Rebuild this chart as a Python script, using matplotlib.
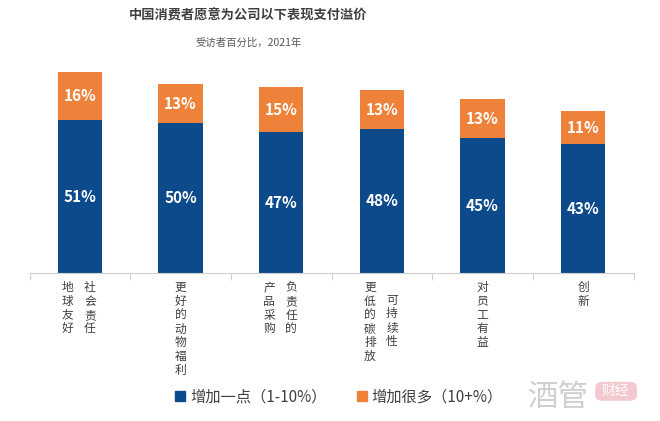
import matplotlib
matplotlib.use('Agg')
from matplotlib import pyplot as plt
from matplotlib.patches import Patch, FancyBboxPatch
import numpy as np

plt.rcParams['font.family'] = ['Noto Sans CJK SC', 'DejaVu Sans']

# Data
categories = [['地球友好', '社会责任'],
              ['更好的动物福利'],
              ['产品采购', '负责任的'],
              ['更低的碳排放', '可持续性'],
              ['对员工有益'],
              ['创新']]
little = [51, 50, 47, 48, 45, 43]
lots = [16, 13, 15, 13, 13, 11]
series_names = ['增加一点（1-10%）', '增加很多（10+%）']

BLUE = '#0D4A8C'
ORANGE = '#EF823A'
TXT = '#404040'

fig = plt.figure(figsize=(6.6, 4.21), dpi=100)
ax = fig.add_axes([0.0449, 0.3515, 0.915, 0.4988])

x = np.arange(len(categories))
ax.bar(x, little, width=0.44, color=BLUE)
ax.bar(x, lots, width=0.44, bottom=little, color=ORANGE)

for i in range(len(x)):
    ax.text(x[i], little[i] / 2, f'{little[i]}%', ha='center', va='center',
            color='white', fontsize=11, fontweight='bold')
    ax.text(x[i], little[i] + lots[i] / 2, f'{lots[i]}%', ha='center', va='center',
            color='white', fontsize=11, fontweight='bold')

ax.set_xlim(-0.5, len(categories) - 0.5)
ax.set_ylim(0, 70)
ax.set_yticks([])
for s in ['top', 'right', 'left']:
    ax.spines[s].set_visible(False)
ax.spines['bottom'].set_color('#D0D0D0')
ax.set_xticks(np.arange(len(categories) + 1) - 0.5)
ax.set_xticklabels([])
ax.tick_params(axis='x', length=5, color='#D0D0D0', direction='out')

# vertical category labels, written in columns
for i, cols in enumerate(categories):
    longest = max(len(c) for c in cols)
    offsets = [0] if len(cols) == 1 else [-12, 10]
    for col, dx in zip(cols, offsets):
        dy = -8 - (longest - len(col)) * 12.5 / 2
        ax.annotate('\n'.join(col), xy=(x[i], 0), xycoords='data',
                    xytext=(dx * 0.72, dy * 0.72), textcoords='offset points',
                    ha='center', va='top', fontsize=8.5, color=TXT, linespacing=1.08)

fig.text(0.376, 0.962, '中国消费者愿意为公司以下表现支付溢价', ha='center', va='center',
         fontsize=9.5, fontweight='bold', color=TXT)
fig.text(0.376, 0.898, '受访者百分比，2021年', ha='center', va='center',
         fontsize=7.5, color='#595959')

handles = [Patch(color=BLUE), Patch(color=ORANGE)]
fig.legend(handles, series_names, loc='center left', bbox_to_anchor=(0.245, 0.057),
           ncol=2, frameon=False, fontsize=11, handlelength=0.65, handleheight=0.65,
           handletextpad=0.3, columnspacing=2.0, labelcolor=TXT)

# watermark
fig.text(0.80, 0.057, '酒管', ha='left', va='center', fontsize=22, color='#CFCFCF')
box = FancyBboxPatch((0.902, 0.048), 0.063, 0.045, transform=fig.transFigure,
                     boxstyle='round,pad=0.0,rounding_size=0.012',
                     facecolor='#F3C9CF', edgecolor='none')
fig.patches.append(box)
fig.text(0.933, 0.071, '财经', ha='center', va='center', fontsize=10, color='white')

fig.savefig('out.png', dpi=100)
